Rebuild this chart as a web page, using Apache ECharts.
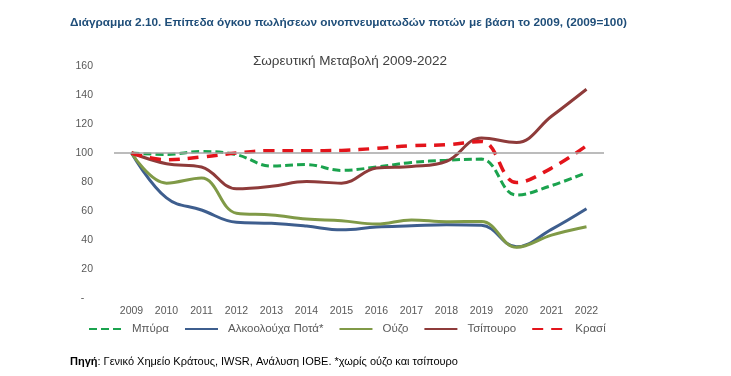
<!DOCTYPE html>
<html>
<head>
<meta charset="utf-8">
<script src="https://cdn.jsdelivr.net/npm/echarts@6/dist/echarts.min.js"></script>
<style>
  html, body { margin: 0; padding: 0; background: #fff; }
  #chart { width: 731px; height: 376px; }
</style>
</head>
<body>
<div id="chart"></div>
<script>
// years on the x axis
const years = ['2009', '2010', '2011', '2012', '2013', '2014', '2015', '2016', '2017', '2018', '2019', '2020', '2021', '2022'];

// index values, 2009 = 100
const beer    = [100, 99, 101, 98.8, 91, 92, 88, 90.3, 93.5, 95, 95.8, 71, 77.5, 86.5];
const spirits = [100, 69, 60.7, 52.2, 51.5, 49.6, 47, 49, 49.8, 50.6, 50.2, 35.3, 47.3, 61.5];
const ouzo    = [100, 79.2, 82.7, 58.5, 57.3, 54.5, 53.3, 51, 53.8, 52.6, 52.8, 35, 43.4, 49.2];
const tsipouro = [100, 92.6, 90.3, 75.3, 77, 80.3, 79.2, 89.6, 90.7, 94.2, 110.4, 107.3, 125.3, 144];
const wine    = [100, 95.4, 97.2, 100, 101.6, 101.6, 101.8, 103.2, 105, 105.7, 108, 79.6, 89.6, 105];

const yTicks = [0, 20, 40, 60, 80, 100, 120, 140, 160];

const chart = echarts.init(document.getElementById('chart'), null, { renderer: 'canvas' });

const font = 'Liberation Sans, Arial, sans-serif';
const labelColor = '#595959';

const lineSeries = (name, data, color, dash, width) => ({
    name,
    type: 'line',
    data,
    smooth: 0.4,
    symbol: 'none',
    lineStyle: { color, width, type: dash || 'solid', cap: 'butt' },
    itemStyle: { color }
});

const option = {
    animation: false,
    backgroundColor: '#fff',
    title: [
        {
            text: 'Διάγραμμα 2.10. Επίπεδα όγκου πωλήσεων οινοπνευματωδών ποτών με βάση το 2009, (2009=100)',
            left: 65,
            top: 12,
            textStyle: { fontFamily: font, fontSize: 11.8, fontWeight: 'bold', color: '#1F4E79' }
        },
        {
            text: 'Σωρευτική Μεταβολή 2009-2022',
            left: 345,
            top: 49,
            textAlign: 'center',
            textStyle: { fontFamily: font, fontSize: 13.5, fontWeight: 'normal', color: '#404040' }
        },
        {
            text: '{b|Πηγή}: Γενικό Χημείο Κράτους, IWSR, Ανάλυση ΙΟΒΕ. *χωρίς ούζο και τσίπουρο',
            left: 65,
            top: 351,
            textStyle: {
                fontFamily: font, fontSize: 11, fontWeight: 'normal', color: '#000',
                rich: { b: { fontFamily: font, fontSize: 11, fontWeight: 'bold', color: '#000' } }
            }
        }
    ],
    legend: {
        top: 318,
        left: 83,
        itemWidth: 33,
        itemHeight: 10,
        itemGap: 15,
        itemStyle: { opacity: 0 },
        textStyle: { fontFamily: font, fontSize: 11.5, color: labelColor, padding: [0, 0, 0, 5] },
        data: ['Μπύρα', 'Αλκοολούχα Ποτά*', 'Ούζο', 'Τσίπουρο', 'Κρασί']
    },
    grid: { left: 114, right: 127, top: 66, bottom: 78 },
    xAxis: {
        type: 'category',
        data: years,
        boundaryGap: true,
        axisLine: { show: false },
        axisTick: { show: false },
        axisLabel: { fontFamily: font, fontSize: 10.5, color: labelColor, margin: 8, interval: 0 }
    },
    yAxis: {
        type: 'value',
        min: yTicks[0],
        max: yTicks[yTicks.length - 1],
        interval: 20,
        axisLine: { show: false },
        axisTick: { show: false },
        splitLine: { show: false },
        axisLabel: {
            fontFamily: font, fontSize: 10.5, color: labelColor, margin: 21,
            formatter: v => (v === 0 ? '-   ' : String(v))
        }
    },
    series: [
        Object.assign(lineSeries('Μπύρα', beer, '#1BA34E', [8, 4], 3), {
            markLine: {
                silent: true,
                symbol: 'none',
                label: { show: false },
                lineStyle: { color: '#A6A6A6', width: 1.5, type: 'solid' },
                data: [{ yAxis: 100 }]
            },
            z: 3
        }),
        lineSeries('Αλκοολούχα Ποτά*', spirits, '#3E5E8E', null, 3),
        lineSeries('Ούζο', ouzo, '#809A47', null, 3),
        lineSeries('Τσίπουρο', tsipouro, '#8E3B3A', null, 3),
        lineSeries('Κρασί', wine, '#E3141B', [11, 8], 3.5)
    ]
};

chart.setOption(option);
</script>
</body>
</html>
